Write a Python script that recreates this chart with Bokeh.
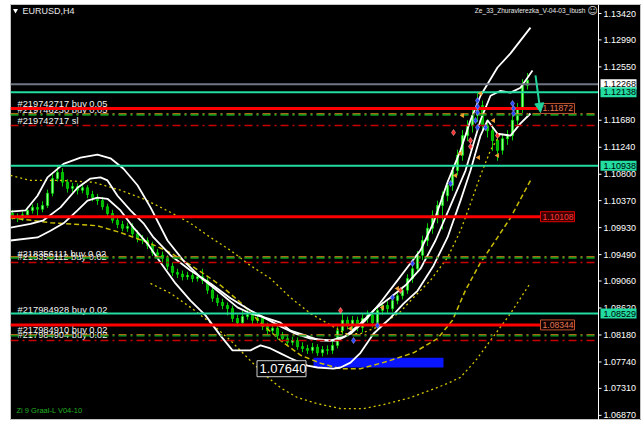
from bokeh.plotting import figure
from bokeh.models import Range1d, Arrow, NormalHead, ColumnDataSource
from bokeh.embed import file_html
from bokeh.resources import INLINE
from bokeh.core.properties import value

# ---------------- data (EURUSD H4) ----------------
open_ = [1.1016,1.1011,1.1008,1.1014,1.1021,1.1026,1.1023,1.1029,1.1049,1.1073,
1.1083,1.1067,1.1057,1.1060,1.1054,1.1058,1.1047,1.1042,1.1037,1.1027,
1.1016,1.1005,1.0998,1.0992,1.0995,1.0983,1.0975,1.0972,1.0964,1.0952,
1.0948,1.0943,1.0930,1.0920,1.0917,1.0913,1.0915,1.0910,1.0913,1.0907,
1.0891,1.0878,1.0871,1.0866,1.0861,1.0845,1.0838,1.0848,1.0851,1.0842,
1.0845,1.0832,1.0825,1.0829,1.0817,1.0812,1.0806,1.0809,1.0799,1.0796,
1.0793,1.0798,1.0789,1.0794,1.0793,1.0801,1.0825,1.0842,1.0833,1.0842,
1.0830,1.0845,1.0850,1.0838,1.0858,1.0866,1.0861,1.0874,1.0882,1.0891,
1.0910,1.0926,1.0948,1.0972,1.0992,1.1013,1.1029,1.1045,1.1062,1.1086,
1.1111,1.1143,1.1159,1.1176,1.1192,1.1159,1.1151,1.1135,1.1119,1.1138,
1.1143,1.1168,1.1187,1.1225]
close = [1.1011,1.1008,1.1014,1.1021,1.1026,1.1023,1.1029,1.1049,1.1073,1.1083,
1.1067,1.1057,1.1060,1.1054,1.1058,1.1047,1.1042,1.1037,1.1027,1.1016,
1.1005,1.0998,1.0992,1.0995,1.0983,1.0975,1.0972,1.0964,1.0952,1.0948,
1.0943,1.0930,1.0920,1.0917,1.0913,1.0915,1.0910,1.0913,1.0907,1.0891,
1.0878,1.0871,1.0866,1.0861,1.0845,1.0838,1.0848,1.0851,1.0842,1.0845,
1.0832,1.0825,1.0829,1.0817,1.0812,1.0806,1.0809,1.0799,1.0796,1.0793,
1.0798,1.0789,1.0794,1.0793,1.0801,1.0825,1.0842,1.0833,1.0842,1.0830,
1.0845,1.0850,1.0838,1.0858,1.0866,1.0861,1.0874,1.0882,1.0891,1.0910,
1.0926,1.0948,1.0972,1.0992,1.1013,1.1029,1.1045,1.1062,1.1086,1.1111,
1.1143,1.1159,1.1176,1.1192,1.1159,1.1151,1.1135,1.1119,1.1138,1.1143,
1.1168,1.1187,1.1225,1.1233]
high = [1.1022,1.1016,1.1019,1.1027,1.1031,1.1033,1.1036,1.1055,1.1080,1.1094,
1.1090,1.1072,1.1066,1.1065,1.1064,1.1062,1.1053,1.1048,1.1043,1.1032,
1.1022,1.1010,1.1004,1.1001,1.1000,1.0989,1.0981,1.0977,1.0970,1.0958,
1.0954,1.0948,1.0936,1.0926,1.0923,1.0921,1.0920,1.0919,1.0926,1.0912,
1.0896,1.0884,1.0877,1.0871,1.0866,1.0851,1.0858,1.0860,1.0856,1.0851,
1.0850,1.0838,1.0836,1.0834,1.0823,1.0818,1.0815,1.0814,1.0806,1.0802,
1.0805,1.0803,1.0800,1.0801,1.0808,1.0832,1.0852,1.0848,1.0849,1.0848,
1.0852,1.0858,1.0856,1.0864,1.0872,1.0873,1.0880,1.0889,1.0897,1.0917,
1.0933,1.0955,1.0980,1.1000,1.1021,1.1037,1.1052,1.1070,1.1094,1.1120,
1.1152,1.1168,1.1185,1.1212,1.1200,1.1170,1.1160,1.1145,1.1146,1.1152,
1.1176,1.1196,1.1235,1.1245]
low = [1.1006,1.1002,1.1004,1.1010,1.1016,1.1012,1.1018,1.1025,1.1044,1.1068,
1.1060,1.1050,1.1051,1.1047,1.1049,1.1041,1.1036,1.1030,1.1022,1.1010,
1.1000,1.0992,1.0987,1.0986,1.0978,1.0969,1.0966,1.0958,1.0947,1.0942,
1.0936,1.0924,1.0914,1.0911,1.0907,1.0908,1.0904,1.0905,1.0901,1.0885,
1.0872,1.0865,1.0860,1.0850,1.0839,1.0832,1.0833,1.0843,1.0836,1.0837,
1.0826,1.0819,1.0820,1.0811,1.0806,1.0800,1.0801,1.0794,1.0790,1.0787,
1.0788,1.0784,1.0783,1.0786,1.0787,1.0796,1.0819,1.0827,1.0827,1.0824,
1.0822,1.0838,1.0830,1.0832,1.0851,1.0854,1.0856,1.0868,1.0876,1.0885,
1.0903,1.0919,1.0940,1.0963,1.0983,1.1000,1.0990,1.1036,1.1053,1.1078,
1.1102,1.1134,1.1148,1.1165,1.1150,1.1140,1.1118,1.1102,1.1112,1.1128,
1.1135,1.1160,1.1180,1.1218]
bars = list(range(len(close)))

# white envelope bands (bar position, price)
band_up_x = [-0.4,2.6,5,7,10.2,13.6,17,19.6,22.2,25,27.6,31,34.2,37.6,41.6,45,47.6,51,53.6,55.6,59,61.6,65,67.6,70.6,73.6,77,79.6,81.6,84.2,87,89.6,91.6,93.6,97,99.6,103.6]
band_up_y = [1.1019,1.1021,1.1045,1.1075,1.1097,1.1107,1.1112,1.1106,1.1089,1.1062,1.1026,1.0972,1.0939,1.0912,1.0886,1.0863,1.0853,1.0845,1.0838,1.0825,1.0816,1.0809,1.0809,1.0820,1.0842,1.0871,1.0907,1.0935,1.0956,1.1001,1.1067,1.1119,1.1168,1.1208,1.1254,1.1277,1.1319]
band_mid_x = [-0.4,3.6,6.2,9.6,13,15.6,17.6,19,21,23.6,26.2,28.2,31.6,35.6,39.6,43.6,47.6,50.6,53.6,56.6,59.6,63.6,66.6,69.6,72.6,75.6,78.6,81.6,84.6,87.6,90.6,93.6,95.6,97.6,99.6,101.6,104]
band_mid_y = [1.0993,1.0999,1.1005,1.1026,1.1058,1.1073,1.1075,1.1070,1.1045,1.1021,1.1000,1.0977,1.0948,1.0923,1.0902,1.0878,1.0858,1.0845,1.0832,1.0820,1.0812,1.0809,1.0816,1.0837,1.0861,1.0879,1.0899,1.0926,1.0972,1.1029,1.1086,1.1168,1.1208,1.1216,1.1213,1.1221,1.1249]
band_low_x = [-0.4,5,7.6,10.2,13,15,17,19,21.6,24.2,27,29.6,32.6,35.6,38.6,41.6,44,47.6,49.6,51.6,53.6,55.6,59,61,64.2,65.6,67.6,69.6,72.2,75.6,78.2,81,84.2,87,89.6,91.6,93.6,95,97,99.6,101.6,103.6]
band_low_y = [1.0972,1.0977,1.0988,1.1000,1.1021,1.1037,1.1042,1.1040,1.1021,1.0993,1.0967,1.0936,1.0902,1.0874,1.0850,1.0817,1.0793,1.0793,1.0801,1.0796,1.0788,1.0780,1.0768,1.0765,1.0763,1.0765,1.0773,1.0789,1.0820,1.0846,1.0869,1.0890,1.0931,1.0977,1.1037,1.1086,1.1143,1.1168,1.1146,1.1143,1.1163,1.1179]

# yellow moving averages
ma_fast_x = [-0.4,3.6,9.6,16.2,21.6,26.2,31.6,35.6,39.6,43.6,47.6,51.6,55.6,59.6,63,66.6,69.6,73.6,77.6,80.2,83.6,87,89.6,91.6,93.6,95.6,97.6]
ma_fast_y = [1.1078,1.1070,1.1070,1.1067,1.1054,1.1040,1.1018,1.1000,1.0977,1.0956,1.0931,1.0910,1.0879,1.0853,1.0837,1.0820,1.0820,1.0833,1.0856,1.0879,1.0907,1.0944,1.0988,1.1032,1.1078,1.1119,1.1146]
ma_mid_x = [-0.4,7.6,17,21.6,27.6,31.6,35,38.2,41.6,45.6,49.6,53.6,57.6,61.6,65.6,69.6,75,80.2,85,88,90.6,93.6,96.6,99.6,103.6]
ma_mid_y = [1.1009,1.1001,1.0996,1.0985,1.0967,1.0952,1.0935,1.0918,1.0899,1.0871,1.0838,1.0809,1.0785,1.0772,1.0763,1.0763,1.0775,1.0789,1.0812,1.0842,1.0891,1.0936,1.0972,1.1009,1.1070]
ma_slow_x = [27.6,31.6,35.6,39.6,43.6,47.6,50.6,53.6,57,61,65.6,70.2,75,79.6,83.6,87,89.6,92.6,95.6,99.6,103.6]
ma_slow_y = [1.0902,1.0886,1.0863,1.0838,1.0809,1.0776,1.0752,1.0732,1.0716,1.0706,1.0698,1.0698,1.0706,1.0716,1.0728,1.0739,1.0749,1.0776,1.0809,1.0853,1.0903]

# horizontal levels
gray_level = [1.12268]
mint_levels = [1.12138, 1.10938, 1.08529]
red_levels = [1.11872, 1.10108, 1.08344]
open_levels = [1.11774, 1.09443, 1.08172]
sl_levels = [1.11595, 1.09361, 1.08090]

# order labels
order_labels = ["#219742717 buy 0.05", "#219746230 buy 0.05", "#219742717 sl",
                "#218356111 buy 0.02", "#218356112 buy 0.02", "#217984928 buy 0.02",
                "#217984910 buy 0.02", "#217984904 buy 0.02"]
order_label_prices = [1.11953, 1.11855, 1.11660, 1.09508, 1.09443, 1.08595, 1.08269, 1.08172]

# trade arrows
blue_x = [93.0,93.0,93.0,92.6,93.0,94.6,100.0,100.2,100.2,87.6,68.2,73.0,76.0,80.0]
blue_y = [1.12002,1.11904,1.11806,1.11676,1.11562,1.11562,1.11953,1.11872,1.11790,1.10649,1.08090,1.08335,1.08791,1.09345]
red_x = [88.2,91.6,91.6,97.0,65.6,77.6]
red_y = [1.11480,1.11350,1.11252,1.11432,1.08579,1.08905]
orange_x = [90.0,96.2,89.6,93.2,97.0,93.6,88.6,67.6,74.0,77.0]
orange_y = [1.11758,1.11676,1.11138,1.11073,1.11106,1.12116,1.10780,1.08286,1.08628,1.08938]

blue_zone_bars = [60.2, 86.2]
blue_zone_prices = [1.0765, 1.0781]
low_mark = 1.07640

y_ticks = [1.13420, 1.12990, 1.12550, 1.11680, 1.11240, 1.10800, 1.10370, 1.09930,
           1.09490, 1.09060, 1.08620, 1.08180, 1.07740, 1.07310, 1.06870]

# ---------------- figure ----------------
X0, X1 = -0.4, 125.8          # whole chart window incl. price scale
Y0, Y1 = 1.06786, 1.13567
AXIS_X = 117.2                # price-scale line
PX = 0.000163                 # price per pixel
BX = 0.2                      # bars per pixel

p = figure(width=631, height=416, output_backend="svg", toolbar_location=None,
           x_range=Range1d(X0, X1), y_range=Range1d(Y0, Y1),
           x_axis_location=None, y_axis_location=None,
           min_border_left=0, min_border_right=0, min_border_top=0, min_border_bottom=0,
           background_fill_color="black", border_fill_color="black")
p.margin = (4, 0, 0, 10)
p.xgrid.visible = False
p.ygrid.visible = False
p.outline_line_color = "#c4c4c4"
p.outline_line_width = 1

FONT = value("Liberation Sans")

# order labels (under the lines)
p.text(x=[1.0] * len(order_labels), y=order_label_prices, text=order_labels,
       text_font=FONT, text_font_size="9.3px", text_color="#f2f2f2",
       text_baseline="middle", text_align="left")

# blue zone
p.quad(left=[blue_zone_bars[0]], right=[blue_zone_bars[1]],
       bottom=[blue_zone_prices[0]], top=[blue_zone_prices[1]],
       fill_color="#0a16ff", line_color=None)

# candles
src = ColumnDataSource(dict(x=bars, o=open_, c=close, h=high, l=low,
                            top=[max(a, b) for a, b in zip(open_, close)],
                            bot=[min(a, b) for a, b in zip(open_, close)],
                            col=["#8cff8c" if c >= o else "#00b400" for o, c in zip(open_, close)]))
p.segment(x0="x", y0="l", x1="x", y1="h", source=src, line_color="#00d000", line_width=1)
p.vbar(x="x", top="top", bottom="bot", width=0.42, source=src,
       fill_color="col", line_color="#00f000", line_width=0.7)

# yellow averages
p.line(ma_slow_x, ma_slow_y, line_color="#d6c800", line_width=1.3, line_dash="2 3")
p.line(ma_mid_x, ma_mid_y, line_color="#c9bd00", line_width=1.5, line_dash="5 3")
p.line(ma_fast_x, ma_fast_y, line_color="#d6c800", line_width=1.3, line_dash="2 3")

# white bands
for bx, by in [(band_up_x, band_up_y), (band_mid_x, band_mid_y), (band_low_x, band_low_y)]:
    p.line(bx, by, line_color="white", line_width=1.8)

# horizontal levels
n = len(mint_levels)
p.segment(x0=[X0], x1=[AXIS_X], y0=gray_level, y1=gray_level, line_color="#6f7783", line_width=2)
p.segment(x0=[X0] * n, x1=[AXIS_X] * n, y0=mint_levels, y1=mint_levels, line_color="#22dca2", line_width=2)
p.segment(x0=[X0] * n, x1=[AXIS_X] * n, y0=[v + 0.5 * PX for v in open_levels],
          y1=[v + 0.5 * PX for v in open_levels], line_color="#e08a1e", line_width=1.3, line_dash="8 4 2 4")
p.segment(x0=[X0] * n, x1=[AXIS_X] * n, y0=[v - 0.5 * PX for v in open_levels],
          y1=[v - 0.5 * PX for v in open_levels], line_color="#00a020", line_width=1.3, line_dash="8 4 2 4")
p.segment(x0=[X0] * n, x1=[AXIS_X] * n, y0=sl_levels, y1=sl_levels,
          line_color="#c80000", line_width=1.5, line_dash="8 4 2 4")
p.segment(x0=[X0] * n, x1=[105.6] * n, y0=red_levels, y1=red_levels, line_color="#ff0000", line_width=3)

# trade markers
p.scatter(blue_x, blue_y, marker="diamond", size=6, fill_color="#2a46ff", line_color="#8fa0ff", line_width=0.6)
p.scatter(red_x, red_y, marker="diamond", size=6, fill_color="#ff2a2a", line_color="#ffb0b0", line_width=0.6)
p.scatter(orange_x, orange_y, marker="triangle", angle=1.57, size=5, fill_color="#f0a030", line_color=None)

# green signal arrow
p.add_layout(Arrow(end=NormalHead(size=9, fill_color="#22d49c", line_color="#22d49c"),
                   x_start=104.6, y_start=1.1241, x_end=105.6, y_end=1.1181,
                   line_color="#22d49c", line_width=2))

# price boxes at the end of red levels
box_text = ["#e07a55", "#ff3a3a", "#e07a55"]
box_line = ["#b8502e", "#e00000", "#c0542e"]
box_fill = ["#100000", "#3a0000", "#100000"]
p.rect(x=[109.0] * n, y=red_levels, width=6.8, height=10 * PX,
       fill_color=box_fill, line_color=box_line, line_width=1)
p.text(x=[106.0] * n, y=red_levels, text=[f"{v:.5f}" for v in red_levels],
       text_font=FONT, text_font_size="8.6px", text_color=box_text,
       text_baseline="middle", text_align="left")

# low price box
p.rect(x=[53.8], y=[low_mark - 0.6 * PX], width=9.8, height=16 * PX,
       fill_color="black", line_color="#d0d0d0", line_width=1)
p.text(x=[49.4], y=[low_mark], text=[f"{low_mark:.5f}"], text_font=FONT,
       text_font_size="13px", text_color="white", text_baseline="middle", text_align="left")

# price scale (drawn inside the chart window)
m = len(y_ticks)
p.segment(x0=[AXIS_X], x1=[AXIS_X], y0=[Y0], y1=[Y1], line_color="white", line_width=1)
p.segment(x0=[AXIS_X] * m, x1=[AXIS_X + 0.6] * m, y0=y_ticks, y1=y_ticks, line_color="white", line_width=1)
p.text(x=[118.2] * m, y=y_ticks, text=[f"{t:.5f}" for t in y_ticks], text_font=FONT,
       text_font_size="9px", text_color="white", text_baseline="middle", text_align="left")

axis_levels = gray_level + mint_levels
axis_fill = ["white"] + ["#22dca2"] * n
p.rect(x=[121.2] * len(axis_levels), y=axis_levels, width=7.2, height=10 * PX,
       fill_color=axis_fill, line_color=None)
p.text(x=[118.2] * len(axis_levels), y=axis_levels, text=[f"{v:.5f}" for v in axis_levels],
       text_font=FONT, text_font_size="9px", text_color="black",
       text_baseline="middle", text_align="left")

# titles
p.scatter([0.6], [1.13469], marker="inverted_triangle", size=5, fill_color="white", line_color=None)
p.text(x=[2.0], y=[1.13469], text=["EURUSD,H4"], text_font=FONT, text_font_size="9px",
       text_color="#e8e8e8", text_baseline="middle", text_align="left")
p.text(x=[114.6], y=[1.13469], text=["Ze_33_Zhuravlerezka_V-04-03_Ibush"], text_font=FONT,
       text_font_size="6.6px", text_color="#e8e8e8", text_baseline="middle", text_align="right")
p.text(x=[116.0], y=[1.13469], text=["\u263A"], text_font=value("DejaVu Sans"),
       text_font_size="10px", text_color="#d0d0d0", text_baseline="middle", text_align="center")
p.text(x=[0.8], y=[1.06950], text=["Zi 9 Graal-L V04-10"], text_font=FONT,
       text_font_size="7.5px", text_color="#22b022", text_baseline="middle", text_align="left")

open("out.html", "w").write(file_html(p, INLINE))
